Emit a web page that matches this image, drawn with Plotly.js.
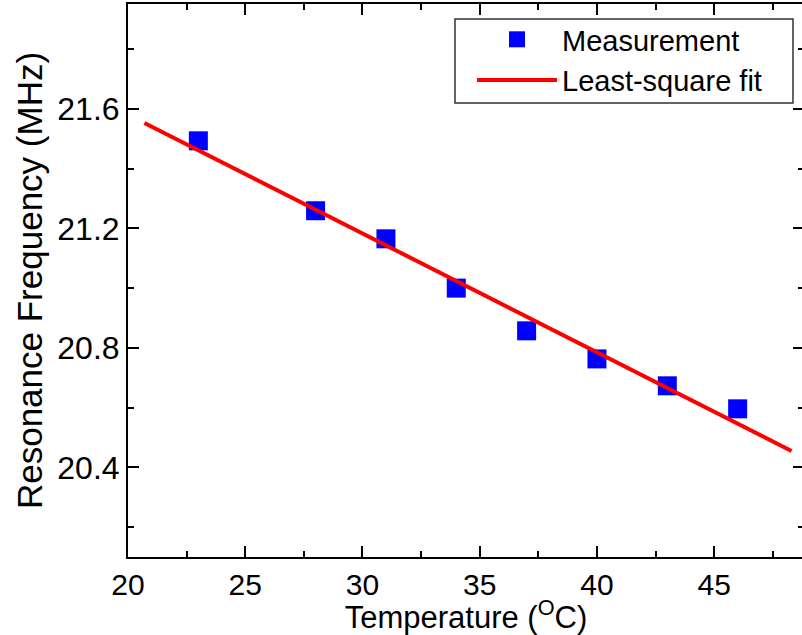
<!DOCTYPE html>
<html>
<head>
<meta charset="utf-8">
<script src="https://cdn.plot.ly/plotly-3.0.1.min.js"></script>
<style>
html,body{margin:0;padding:0;overflow:hidden;background:#fff;}
#chart{width:808px;height:635px;}
</style>
</head>
<body>
<div id="chart"></div>
<script>
// Measured data
const temperature = [23, 28, 31, 34, 37, 40, 43, 46];
const frequency = [21.493, 21.259, 21.165, 21.0, 20.857, 20.763, 20.673, 20.596];
// Least-square fit line endpoints
const fitX = [20.7, 48.3];
const fitY = [21.553, 20.455];

const FONT = 'Liberation Sans, Arial, sans-serif';

const traces = [
  {
    x: temperature, y: frequency, type: 'scatter', mode: 'markers',
    name: 'Measurement',
    marker: {symbol: 'square', size: 19, color: '#0000ff', line: {width: 0}}
  },
  {
    x: fitX, y: fitY, type: 'scatter', mode: 'lines',
    name: 'Least-square fit',
    line: {color: '#ff0000', width: 4}
  }
];

const layout = {
  width: 808, height: 635,
  margin: {l: 128, r: 4, t: 4, b: 78},
  paper_bgcolor: '#fff', plot_bgcolor: '#fff',
  font: {family: FONT, color: '#000', size: 32},
  showlegend: true,
  legend: {
    x: 0.5089, y: 0.982, xanchor: 'left', yanchor: 'top',
    bgcolor: 'rgba(0,0,0,0)', borderwidth: 0,
    font: {family: FONT, size: 29, color: '#000'},
    itemwidth: 80, tracegroupgap: 0
  },
  shapes: [{
    type: 'rect', xref: 'paper', yref: 'paper',
    x0: 0.4837, x1: 0.9837, y0: 0.821, y1: 0.9729,
    fillcolor: '#fff', line: {color: '#333', width: 1.5}, layer: 'above'
  }],
  xaxis: {
    range: [20, 48.83], dtick: 5, tick0: 20,
    ticks: 'inside', ticklen: 11, tickwidth: 2, tickcolor: '#000',
    showline: true, linecolor: '#000', linewidth: 2, mirror: 'ticks',
    showgrid: false, zeroline: false,
    tickfont: {family: FONT, size: 30},
    minor: {dtick: 2.5, ticks: 'inside', ticklen: 6, tickwidth: 2, tickcolor: '#000', showgrid: false},
    title: {text: 'Temperature (<sup>O</sup>C)', font: {family: FONT, size: 31}, standoff: 2}
  },
  yaxis: {
    range: [20.1, 21.951], dtick: 0.4, tick0: 20.4, tickformat: '.1f',
    ticks: 'inside', ticklen: 11, tickwidth: 2, tickcolor: '#000',
    showline: true, linecolor: '#000', linewidth: 2, mirror: 'ticks',
    showgrid: false, zeroline: false,
    tickfont: {family: FONT, size: 32},
    minor: {dtick: 0.2, ticks: 'inside', ticklen: 6, tickwidth: 2, tickcolor: '#000', showgrid: false},
    title: {text: 'Resonance Frequency (MHz)', font: {family: FONT, size: 35}, standoff: 4}
  }
};

Plotly.newPlot('chart', traces, layout, {displayModeBar: false, staticPlot: true});
</script>
</body>
</html>
